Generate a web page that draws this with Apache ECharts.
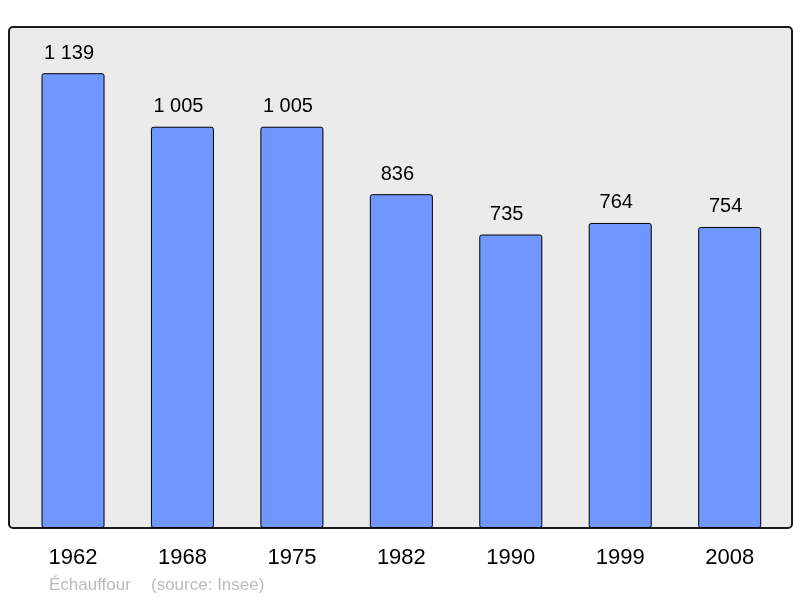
<!DOCTYPE html>
<html>
<head>
<meta charset="utf-8">
<script src="https://cdn.jsdelivr.net/npm/echarts@6/dist/echarts.min.js"></script>
<style>html,body{margin:0;padding:0;background:#fff}#c{width:800px;height:598px}</style>
</head>
<body>
<div id="c"></div>
<script>
var years = ['1962', '1968', '1975', '1982', '1990', '1999', '2008'];
var population = [1139, 1005, 1005, 836, 735, 764, 754];
var place = 'Échauffour';
var source = '(source: Insee)';

function fmt(v) {
  return String(v).replace(/\B(?=(\d{3})+(?!\d))/g, ' ');
}

var chart = echarts.init(document.getElementById('c'), null, {renderer: 'canvas'});
chart.setOption({
  animation: false,
  backgroundColor: '#ffffff',
  textStyle: {fontFamily: 'Liberation Sans, Arial, sans-serif'},
  graphic: [{
    type: 'rect', z: -10,
    shape: {x: 9, y: 27, width: 783, height: 501, r: 4},
    style: {fill: '#ebebeb', stroke: '#1a1a1a', lineWidth: 2}
  }],
  title: [{
    text: place, left: 49, top: 577, padding: 0,
    textStyle: {fontSize: 17, fontWeight: 'normal', color: '#bbbbbb', fontFamily: 'Liberation Sans'}
  }, {
    text: source, left: 151, top: 577, padding: 0,
    textStyle: {fontSize: 17, fontWeight: 'normal', color: '#bbbbbb', fontFamily: 'Liberation Sans'}
  }],
  grid: {left: 18.3, right: 15.6, top: 27.7, bottom: 70},
  xAxis: {
    type: 'category', data: years,
    axisLine: {show: false}, axisTick: {show: false},
    axisLabel: {fontSize: 22, color: '#000', margin: 19, fontFamily: 'Liberation Sans'}
  },
  yAxis: {
    type: 'value', min: 0, max: 1253,
    show: false, splitLine: {show: false}
  },
  series: [{
    type: 'bar', data: population, barWidth: '57.6%',
    itemStyle: {color: '#7096ff', borderColor: '#000', borderWidth: 1, borderRadius: 2},
    label: {
      show: true, position: 'top', distance: 10, offset: [-4, 0], fontSize: 20, color: '#000',
      fontFamily: 'Liberation Sans',
      formatter: function (p) { return fmt(p.value); }
    }
  }]
});
</script>
</body>
</html>
